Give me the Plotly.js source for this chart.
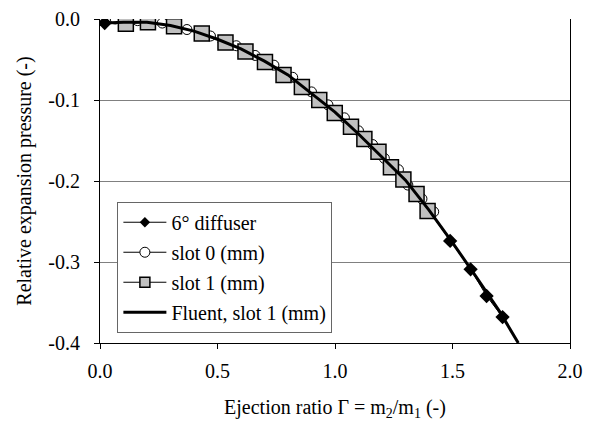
<!DOCTYPE html>
<html>
<head>
<meta charset="utf-8">
<script src="https://cdn.plot.ly/plotly-3.0.1.min.js"></script>
<style>html,body{margin:0;padding:0;background:#fff;}#chart{width:594px;height:421px;}</style>
</head>
<body>
<div id="chart"></div>
<script>
// 6° diffuser
var diffX = [0.02, 0.11, 0.20, 0.31, 0.43, 0.53, 0.62, 0.70, 0.78, 0.86, 0.93, 1.00, 1.07, 1.125, 1.185, 1.24, 1.29, 1.35, 1.40, 1.49, 1.577, 1.645, 1.713];
var diffY = [-0.005, -0.005, -0.004, -0.009, -0.018, -0.029, -0.040, -0.053, -0.068, -0.084, -0.100, -0.116, -0.133, -0.148, -0.164, -0.183, -0.198, -0.216, -0.237, -0.274, -0.309, -0.342, -0.368];
// slot 0 (mm)
var slot0X = [0.065, 0.16, 0.265, 0.37, 0.47, 0.58, 0.66, 0.74, 0.82, 0.90, 0.97, 1.04, 1.10, 1.16, 1.21, 1.27, 1.31, 1.37, 1.42];
var slot0Y = [0.000, -0.002, -0.005, -0.013, -0.021, -0.033, -0.045, -0.057, -0.072, -0.090, -0.106, -0.122, -0.138, -0.155, -0.172, -0.186, -0.205, -0.222, -0.238];
// slot 1 (mm)
var slot1X = [0.11, 0.204, 0.315, 0.433, 0.534, 0.619, 0.702, 0.781, 0.859, 0.933, 0.999, 1.068, 1.125, 1.185, 1.238, 1.291, 1.347, 1.394];
var slot1Y = [-0.006, -0.004, -0.009, -0.018, -0.029, -0.040, -0.053, -0.069, -0.084, -0.100, -0.116, -0.133, -0.148, -0.164, -0.183, -0.198, -0.216, -0.237];
// Fluent, slot 1 (mm)
var fluentX = [0.02, 0.1, 0.2, 0.3, 0.4, 0.5, 0.6, 0.7, 0.8, 0.9, 1.0, 1.1, 1.2, 1.3, 1.4, 1.5, 1.6, 1.7, 1.78];
var fluentY = [-0.005, -0.004, -0.004, -0.008, -0.015, -0.025, -0.037, -0.052, -0.069, -0.092, -0.115, -0.142, -0.170, -0.199, -0.236, -0.276, -0.318, -0.361, -0.400];

var seriesNames = ['6° diffuser', 'slot 0 (mm)', 'slot 1 (mm)', 'Fluent, slot 1 (mm)'];
var xTickVals = [0, 0.5, 1.0, 1.5, 2.0];
var xTickText = ['0.0', '0.5', '1.0', '1.5', '2.0'];
var yTickVals = [0, -0.1, -0.2, -0.3, -0.4];
var yTickText = ['0.0', '-0.1', '-0.2', '-0.3', '-0.4'];

var FONT = 'Liberation Serif';

var diffMarker = {symbol: 'diamond', color: '#000', line: {color: '#000', width: 0}};
var slot0Marker = {symbol: 'circle', color: '#fff', line: {color: '#000', width: 1}};
var slot1Marker = {symbol: 'square', color: '#c0c0c0', line: {color: '#000', width: 1.5}};

function withSize(m, s) { return Object.assign({}, m, {size: s}); }

var traces = [
  // plotted series
  {x: diffX, y: diffY, name: seriesNames[0], mode: 'lines+markers', showlegend: false,
   line: {color: '#000', width: 1}, marker: withSize(diffMarker, 11)},
  {x: slot0X, y: slot0Y, name: seriesNames[1], mode: 'lines+markers', showlegend: false,
   line: {color: '#000', width: 1}, marker: withSize(slot0Marker, 10)},
  {x: slot1X, y: slot1Y, name: seriesNames[2], mode: 'lines+markers', showlegend: false,
   line: {color: '#000', width: 1}, marker: withSize(slot1Marker, 15)},
  {x: fluentX, y: fluentY, name: seriesNames[3], mode: 'lines', showlegend: false,
   line: {color: '#000', width: 3}},
  // legend entries (smaller symbols, as in the reference legend)
  {x: [null], y: [null], name: seriesNames[0], mode: 'lines+markers', legendgroup: 'a',
   line: {color: '#000', width: 1}, marker: withSize(diffMarker, 8)},
  {x: [null], y: [null], name: seriesNames[1], mode: 'lines+markers', legendgroup: 'b',
   line: {color: '#000', width: 1}, marker: withSize(slot0Marker, 10)},
  {x: [null], y: [null], name: seriesNames[2], mode: 'lines+markers', legendgroup: 'c',
   line: {color: '#000', width: 1}, marker: withSize(slot1Marker, 10)},
  {x: [null], y: [null], name: seriesNames[3], mode: 'lines', legendgroup: 'd',
   line: {color: '#000', width: 3}}
];

var layout = {
  width: 594, height: 421,
  margin: {l: 100, r: 24, t: 19, b: 78, pad: 0},
  paper_bgcolor: '#fff', plot_bgcolor: '#fff',
  font: {family: FONT, size: 20, color: '#000'},
  showlegend: true,
  legend: {
    x: 0.037, y: 0.436, xanchor: 'left', yanchor: 'top',
    bgcolor: '#fff', bordercolor: '#666', borderwidth: 1,
    font: {family: FONT, size: 20, color: '#000'},
    traceorder: 'grouped', tracegroupgap: 1, itemwidth: 43
  },
  xaxis: {
    range: [0, 2], tickvals: xTickVals, ticktext: xTickText,
    showgrid: false, zeroline: false,
    showline: true, linecolor: '#000', linewidth: 1,
    ticks: 'outside', ticklen: 5, tickcolor: '#000', ticklabelstandoff: 5,
    tickfont: {family: FONT, size: 20},
    title: {text: 'Ejection ratio Γ = m<sub>2</sub>/m<sub>1</sub> (-)', font: {family: FONT, size: 20}, standoff: 18}
  },
  yaxis: {
    range: [-0.4, 0], tickvals: yTickVals, ticktext: yTickText,
    showgrid: true, gridcolor: '#808080', gridwidth: 1, zeroline: false,
    showline: true, linecolor: '#000', linewidth: 1, mirror: true,
    ticks: 'outside', ticklen: 5, tickcolor: '#000', ticklabelstandoff: 10,
    tickfont: {family: FONT, size: 20},
    title: {text: 'Relative expansion pressure (-)', font: {family: FONT, size: 20}, standoff: 11}
  }
};

Plotly.newPlot('chart', traces, layout, {displayModeBar: false, staticPlot: true});
</script>
</body>
</html>
